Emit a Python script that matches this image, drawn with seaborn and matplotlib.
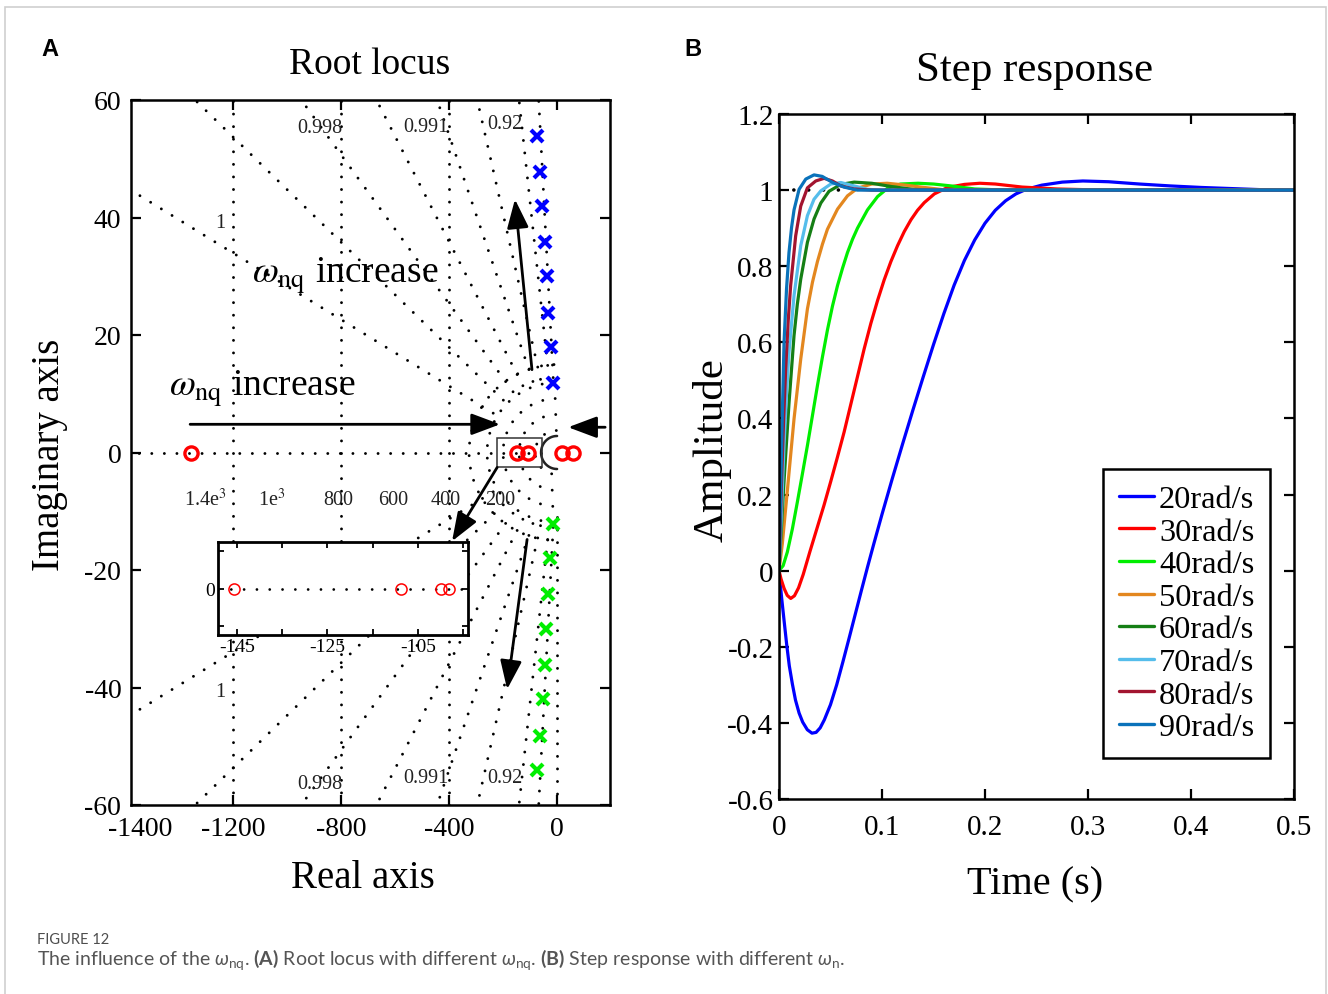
import numpy as np
import pandas as pd
import matplotlib
matplotlib.use("Agg")
import matplotlib.pyplot as plt
from matplotlib.patches import Rectangle
import seaborn as sns


# ==========================
# 1. Data - (A) root locus
# ==========================

zero_x = [-1356, -148, -107, 18, 59]          # red circles on the real axis
pole_up_x = [-74, -63, -56, -44, -37, -33, -22, -15]
pole_up_y = [53.8, 47.8, 41.9, 35.9, 30.0, 23.8, 17.9, 11.9]
pole_dn_x = [-15, -26, -33, -41, -44, -52, -63, -74]
pole_dn_y = [-12.1, -18.0, -24.0, -30.1, -36.1, -42.0, -48.2, -54.0]
inset_zero_x = [-145.7, -108.8, -99.9, -98.1]

# sgrid-like dotted grid
grid_zeta = [0.9996, 0.999, 0.998, 0.996, 0.991, 0.98, 0.92, 0.75]
grid_vlines = [-1200, -800, -400]
grid_arcs_px = [22, 38, 54, 70, 88]

zeta_labels = ["1", "0.998", "0.991", "0.92"]
zeta_label_x = [-1248, -878, -485, -193]
zeta_label_y_top = [39.2, 55.3, 55.5, 56.0]
zeta_label_y_bot = [-40.7, -56.3, -55.3, -55.3]
wn_labels = ["1.4e$^3$", "1e$^3$", "800", "600", "400", "200"]
wn_label_x = [-1304, -1056, -811, -607, -411, -211]

x_ticks_a = [-1200, -800, -400, 0]
x_ticklabels_a = ["-1200", "-800", "-400", "0"]
y_ticks_a = [-60, -40, -20, 0, 20, 40, 60]
inset_ticks = [-145, -135, -125, -115, -105, -95]
inset_ticklabels = ["-145", "", "-125", "", "-105", ""]


# ==========================
# 2. Data - (B) step response
# ==========================

labels = ["20rad/s", "30rad/s", "40rad/s", "50rad/s",
          "60rad/s", "70rad/s", "80rad/s", "90rad/s"]
colors = ["#0000FF", "#FF0000", "#00EE00", "#E3871F",
          "#157F15", "#55BDEB", "#A2142F", "#0A72BA"]

t_20 = [0, 0.0025, 0.005, 0.0075, 0.010, 0.013, 0.016, 0.0195, 0.023, 0.0275,
        0.032, 0.036, 0.040, 0.044, 0.050, 0.056, 0.062,
        0.068, 0.074, 0.080, 0.086, 0.092, 0.100, 0.110, 0.120, 0.130, 0.140,
        0.150, 0.160, 0.170, 0.180, 0.190, 0.200, 0.210, 0.220, 0.230, 0.240,
        0.255, 0.275, 0.295, 0.320, 0.350, 0.380, 0.410, 0.440, 0.470, 0.500]
amp_20 = [0, -0.07, -0.133, -0.195, -0.25, -0.298, -0.34, -0.374, -0.398, -0.418,
          -0.427, -0.425, -0.413, -0.392, -0.352, -0.300,
          -0.240, -0.178, -0.115, -0.052, 0.01, 0.07, 0.148, 0.242, 0.333, 0.422,
          0.509, 0.594, 0.675, 0.750, 0.815, 0.869, 0.913, 0.947, 0.972, 0.990,
          1.002, 1.013, 1.021, 1.024, 1.022, 1.016, 1.011, 1.007, 1.004, 1.001, 1.0]

t_30 = [0, 0.002, 0.005, 0.008, 0.0114, 0.015, 0.019, 0.0235, 0.030, 0.0373,
        0.0437, 0.0503, 0.0567, 0.0632, 0.0697, 0.0762, 0.0827, 0.0892, 0.0957,
        0.1021, 0.1086, 0.1151, 0.1216, 0.1281, 0.1345, 0.141, 0.1508, 0.1637,
        0.180, 0.195, 0.210, 0.236, 0.270, 0.300, 0.500]
amp_30 = [0, -0.022, -0.047, -0.065, -0.073, -0.066, -0.045, -0.01, 0.05, 0.115,
          0.172, 0.235, 0.298, 0.364, 0.437, 0.51, 0.583, 0.650, 0.71, 0.764,
          0.812, 0.854, 0.891, 0.922, 0.947, 0.967, 0.990, 1.007, 1.015, 1.018,
          1.016, 1.008, 1.003, 1.001, 1.0]

t_40 = [0, 0.004, 0.0081, 0.013, 0.0178, 0.0227, 0.0276, 0.0325, 0.0373, 0.0422,
        0.047, 0.0519, 0.0568, 0.0617, 0.0665, 0.0714, 0.0762, 0.0859, 0.0957,
        0.1054, 0.118, 0.135, 0.150, 0.167, 0.190, 0.220, 0.500]
amp_40 = [0, 0.013, 0.049, 0.11, 0.18, 0.254, 0.329, 0.408, 0.486, 0.562, 0.632,
          0.695, 0.749, 0.795, 0.836, 0.871, 0.900, 0.948, 0.983, 1.005, 1.016,
          1.018, 1.016, 1.011, 1.003, 1.0, 1.0]

t_50 = [0, 0.0032, 0.0081, 0.0146, 0.0211, 0.0276, 0.0325, 0.0373, 0.0422, 0.047,
        0.0568, 0.0665, 0.0762, 0.090, 0.105, 0.120, 0.141, 0.163, 0.500]
amp_50 = [0, 0.07, 0.21, 0.399, 0.556, 0.688, 0.758, 0.812, 0.858, 0.897, 0.950,
          0.985, 1.005, 1.016, 1.018, 1.014, 1.007, 1.0, 1.0]

t_60 = [0, 0.0025, 0.005, 0.0097, 0.0146, 0.0178, 0.0211, 0.0276, 0.034, 0.0406,
        0.0486, 0.060, 0.073, 0.090, 0.110, 0.130, 0.150, 0.500]
amp_60 = [0, 0.12, 0.24, 0.44, 0.618, 0.700, 0.766, 0.863, 0.924, 0.966, 0.997,
          1.015, 1.021, 1.018, 1.009, 1.002, 1.0, 1.0]

t_70 = [0, 0.0025, 0.0049, 0.0073, 0.0097, 0.0146, 0.0211, 0.0276, 0.034, 0.0406,
        0.0503, 0.060, 0.073, 0.086, 0.100, 0.500]
amp_70 = [0, 0.16, 0.33, 0.465, 0.574, 0.723, 0.854, 0.933, 0.976, 0.998, 1.016,
          1.020, 1.011, 1.002, 1.0, 1.0]

t_80 = [0, 0.0023, 0.0044, 0.0065, 0.0089, 0.0113, 0.0162, 0.0211, 0.0276, 0.0357,
        0.0438, 0.0519, 0.060, 0.073, 0.090, 0.500]
amp_80 = [0, 0.22, 0.39, 0.53, 0.655, 0.749, 0.880, 0.958, 1.006, 1.024, 1.031,
          1.024, 1.011, 1.003, 1.0, 1.0]

t_90 = [0, 0.0016, 0.0033, 0.0049, 0.0073, 0.0097, 0.0122, 0.0146, 0.0195, 0.026,
        0.034, 0.042, 0.052, 0.063, 0.076, 0.500]
amp_90 = [0, 0.2, 0.42, 0.60, 0.74, 0.836, 0.902, 0.948, 1.002, 1.029, 1.040,
          1.036, 1.020, 1.008, 1.0, 1.0]

t_all = [t_20, t_30, t_40, t_50, t_60, t_70, t_80, t_90]
amp_all = [amp_20, amp_30, amp_40, amp_50, amp_60, amp_70, amp_80, amp_90]

y_ticks_b = [-0.6, -0.4, -0.2, 0, 0.2, 0.4, 0.6, 0.8, 1.0, 1.2]
y_ticklabels_b = ["-0.6", "-0.4", "-0.2", "0", "0.2", "0.4", "0.6", "0.8", "1", "1.2"]
x_ticks_b = [0, 0.1, 0.2, 0.3, 0.4, 0.5]
x_ticklabels_b = ["0", "0.1", "0.2", "0.3", "0.4", "0.5"]

step_df = pd.concat(
    [pd.DataFrame({"t": t, "amp": a, "label": lab})
     for t, a, lab in zip(t_all, amp_all, labels)],
    ignore_index=True)


# ==========================
# 3. Style
# ==========================

sns.set_theme(style="ticks")
plt.rcParams["font.family"] = ["Liberation Serif", "DejaVu Serif"]
plt.rcParams["mathtext.fontset"] = "custom"
plt.rcParams["mathtext.rm"] = "Lato"
plt.rcParams["mathtext.it"] = "Lato:italic"
plt.rcParams["mathtext.bf"] = "Lato:bold"
plt.rcParams["axes.edgecolor"] = "black"
plt.rcParams["axes.linewidth"] = 1.8
plt.rcParams["xtick.color"] = "black"
plt.rcParams["ytick.color"] = "black"
plt.rcParams["text.color"] = "black"

W, H = 1328, 995


def fx(px):
    return px / W


def fy(py):
    return 1 - py / H


fig = plt.figure(figsize=(W / 100, H / 100), dpi=100)
fig.patch.set_facecolor("white")

# light frame round the whole figure
fig.patches.append(Rectangle((fx(5), -0.01), fx(1326) - fx(5), 1.01 - 8 / H,
                             transform=fig.transFigure, fill=False,
                             edgecolor="#cfcfcf", lw=1.2))

dot_style = dict(color="black", lw=2.1, ls=(0, (0.01, 4.3)),
                 dash_capstyle="round", zorder=1)


# ==========================
# 4. (A) Root locus
# ==========================

ax1 = fig.add_axes([fx(131), fy(806), fx(610) - fx(131), fy(101) - fy(806)])
ax1.set_xlim(-1578, 196)
ax1.set_ylim(-60, 60)

PX_X, PX_Y = 0.27, 5.875   # screen pixels per data unit (for round-looking grid)

for z in grid_zeta:
    s = np.tan(np.arccos(z))
    r0 = 75 / np.hypot(PX_X, s * PX_Y)
    for sg in (1, -1):
        ax1.plot([-r0, -2500], [sg * s * r0, sg * s * 2500], **dot_style)

for xv in grid_vlines:
    ax1.plot([xv, xv], [-60, 60], **dot_style)
ax1.plot([0, 0], [-11, -60], **dot_style)
ax1.plot([-60, -1578], [0, 0], **dot_style)

for R in grid_arcs_px:
    th = np.radians(np.linspace(92, 268, 80))
    ax1.plot(R * np.cos(th) / PX_X, R * np.sin(th) / PX_Y, **dot_style)

# solid arc near the origin
th = np.radians(np.linspace(90, 270, 60))
ax1.plot(16 * np.cos(th) / PX_X, 16.5 * np.sin(th) / PX_Y, color="#222222",
         lw=1.8, zorder=3)

# zoom box
ax1.add_patch(Rectangle((-222, -2.55), 166, 5.1, fill=False,
                        edgecolor="#333333", lw=1.1, zorder=3))

ax1.plot(zero_x, [0] * len(zero_x), ls="none", marker="o", ms=9.5,
         mfc="none", mec="#FF0000", mew=2.4, zorder=4)
ax1.plot(pole_up_x, pole_up_y, ls="none", marker="x", ms=8, mec="#0000FF",
         mew=3, zorder=4)
ax1.plot(pole_dn_x, pole_dn_y, ls="none", marker="x", ms=8, mec="#00EE00",
         mew=3, zorder=4)

for lab, xv, yt, yb in zip(zeta_labels, zeta_label_x, zeta_label_y_top, zeta_label_y_bot):
    ax1.text(xv, yt, lab, fontsize=14.5, ha="center", va="center", color="#222222")
    ax1.text(xv, yb, lab, fontsize=14.5, ha="center", va="center", color="#222222")
for lab, xv in zip(wn_labels, wn_label_x):
    ax1.text(xv, -8.0, lab, fontsize=14.5, ha="center", va="center",
             color="#222222", math_fontfamily="stix")

ax1.text(-785, 30.3, r"$\omega_{\mathrm{nq}}$ increase", fontsize=27,
         ha="center", va="center", math_fontfamily="stix", zorder=5)
ax1.text(-1093, 11.1, r"$\omega_{\mathrm{nq}}$ increase", fontsize=27,
         ha="center", va="center", math_fontfamily="stix", zorder=5)

arrows = [((-1359, 4.8), (-211, 4.8)),
          ((-93, 14.1), (-156, 43.1)),
          ((-111, -14.8), (-185, -40.3)),
          ((178, 4.3), (41, 4.3)),
          ((-222, -2.55), (-389, -15.1))]
for tail, head in arrows:
    ax1.annotate("", xy=head, xytext=tail,
                 arrowprops=dict(arrowstyle="-|>,head_length=0.8,head_width=0.3",
                                 color="black", lw=2, mutation_scale=22,
                                 shrinkA=0, shrinkB=0), zorder=5)

ax1.set_xticks(x_ticks_a)
ax1.set_xticklabels(x_ticklabels_a)
ax1.set_yticks(y_ticks_a)
ax1.set_yticklabels([str(v) for v in y_ticks_a])
ax1.tick_params(direction="in", top=True, right=True, length=7, width=1.6,
                labelsize=20)
ax1.tick_params(axis="x", pad=8)
ax1.tick_params(axis="y", pad=7)
ax1.annotate("-1400", xy=(-1545, 0), xycoords=("data", "axes fraction"),
             xytext=(0, -8), textcoords="offset points", ha="center", va="top",
             fontsize=20)

# inset
axi = fig.add_axes([fx(218), fy(636), fx(468) - fx(218), fy(543) - fy(636)])
axi.set_facecolor("white")
axi.set_xlim(-149.2, -93.9)
axi.set_ylim(-1, 1)
axi.plot([-149.2, -93.9], [0, 0], color="black", lw=2.0,
         ls=(0, (0.01, 4.6)), dash_capstyle="round")
axi.plot(inset_zero_x, [0] * len(inset_zero_x), ls="none", marker="o", ms=8,
         mfc="none", mec="#FF0000", mew=1.1)
axi.set_xticks(inset_ticks)
axi.set_xticklabels(inset_ticklabels)
axi.set_yticks([-0.8, 0, 0.8])
axi.set_yticklabels(["", "0", ""])
axi.tick_params(direction="in", top=True, right=True, length=4, width=1.3,
                labelsize=14, pad=2)
for sp in axi.spines.values():
    sp.set_linewidth(2)


# ==========================
# 5. (B) Step response
# ==========================

ax2 = fig.add_axes([fx(779), fy(800), fx(1294) - fx(779), fy(115) - fy(800)])
ax2.plot([0, 0.062], [1, 1], color="black", lw=2.6, ls=(0, (0.01, 4.1)),
         dash_capstyle="round", zorder=1)
sns.lineplot(data=step_df, x="t", y="amp", hue="label", hue_order=labels,
             palette=colors, estimator=None, sort=False, lw=2.3, ax=ax2)
ax2.set_xlim(0, 0.5)
ax2.set_ylim(-0.6, 1.2)
ax2.set_xlabel("")
ax2.set_ylabel("")
ax2.set_xticks(x_ticks_b)
ax2.set_xticklabels(x_ticklabels_b)
ax2.set_yticks(y_ticks_b)
ax2.set_yticklabels(y_ticklabels_b)
ax2.tick_params(direction="in", top=True, right=True, length=7, width=1.6,
                labelsize=21)
ax2.tick_params(axis="x", pad=11)
ax2.tick_params(axis="y", pad=4)

handles, labs = ax2.get_legend_handles_labels()
leg = ax2.legend(handles, labs, loc="upper right",
                 bbox_to_anchor=((1270 - 779) / 515, (800 - 470) / 685),
                 borderaxespad=0, frameon=True, fancybox=False,
                 edgecolor="black", framealpha=1, fontsize=23.3,
                 handlelength=1.1, handletextpad=0.15, labelspacing=0.09,
                 borderpad=0.48)
leg.get_frame().set_linewidth(1.8)
for ln in leg.get_lines():
    ln.set_linewidth(2.4)


# ==========================
# 6. Titles, labels, caption
# ==========================

fig.text(fx(370), fy(65), "Root locus", fontsize=27, ha="center", va="center")
fig.text(fx(1035), fy(71), "Step response", fontsize=31, ha="center", va="center")
fig.text(fx(363), fy(879), "Real axis", fontsize=28, ha="center", va="center")
fig.text(fx(50), fy(455), "Imaginary axis", fontsize=28, ha="center",
         va="center", rotation=90)
fig.text(fx(712), fy(450), "Amplitude", fontsize=31, ha="center", va="center",
         rotation=90)
fig.text(fx(1035), fy(885), "Time (s)", fontsize=29, ha="center", va="center")

fig.text(fx(50), fy(50), "A", fontsize=17, fontweight="bold", ha="center",
         va="center", family="Liberation Sans")
fig.text(fx(693), fy(50), "B", fontsize=17, fontweight="bold", ha="center",
         va="center", family="Liberation Sans")

fig.text(fx(37), fy(940), "FIGURE 12", fontsize=10.5, ha="left", va="center",
         color="#4d4d4d", family="Lato")
fig.text(fx(37), fy(960),
         r"The influence of the $\omega_{\mathrm{nq}}$. $\mathbf{(A)}$ Root locus with "
         r"different $\omega_{\mathrm{nq}}$. $\mathbf{(B)}$ Step response with "
         r"different $\omega_{\mathrm{n}}$.",
         fontsize=14, ha="left", va="center", color="#555555", family="Lato",
         math_fontfamily="custom")

fig.savefig("out.png", dpi=100)
